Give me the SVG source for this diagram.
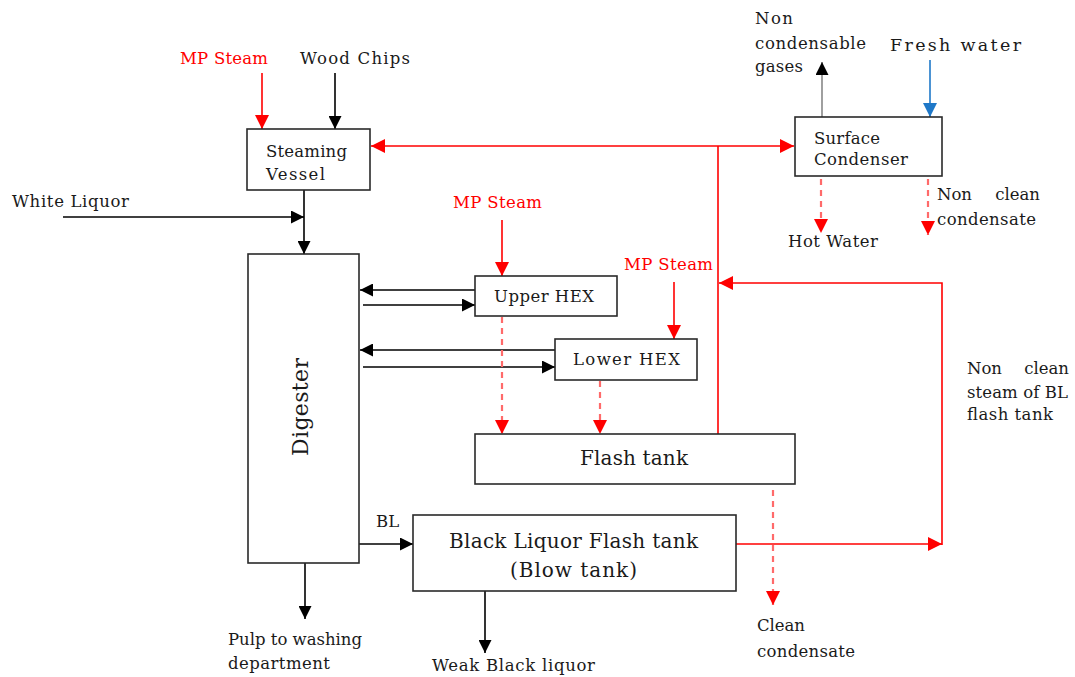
<svg xmlns="http://www.w3.org/2000/svg" width="1075" height="677" viewBox="0 0 1075 677">
<style>
text{font-family:"DejaVu Serif","Liberation Serif",serif;font-size:16.5px;fill:#1a1a1a}
.r{fill:#ff0000}
.box{fill:#fff;stroke:#2a2a2a;stroke-width:1.6}
.k{stroke:#000;stroke-width:1.6;fill:none}
.red{stroke:#ff0000;stroke-width:1.6;fill:none}
.dash{stroke:#ff6a6a;stroke-width:2.2;stroke-dasharray:6,5;fill:none}
.big{font-size:20px}
</style>
<defs>
<marker id="ak" viewBox="0 0 10 10" refX="10" refY="5" markerWidth="13" markerHeight="13" markerUnits="userSpaceOnUse" orient="auto-start-reverse"><path d="M0,0 L10,5 L0,10 z" fill="#000"/></marker>
<marker id="ar" viewBox="0 0 10 10" refX="10" refY="5" markerWidth="14" markerHeight="14" markerUnits="userSpaceOnUse" orient="auto-start-reverse"><path d="M0,0 L10,5 L0,10 z" fill="#ff0000"/></marker>
<marker id="ab" viewBox="0 0 10 10" refX="10" refY="5" markerWidth="14" markerHeight="14" markerUnits="userSpaceOnUse" orient="auto-start-reverse"><path d="M0,0 L10,5 L0,10 z" fill="#1f78c8"/></marker>
</defs>
<g id="connectors">
<line class="red" x1="262" y1="73" x2="262" y2="129" marker-end="url(#ar)"/>
<line class="k" x1="335" y1="73" x2="335" y2="129" marker-end="url(#ak)"/>
<line class="red" x1="371" y1="146" x2="794" y2="146" marker-start="url(#ar)" marker-end="url(#ar)"/>
<line class="red" x1="718" y1="146" x2="718" y2="434"/>
<line x1="822" y1="117" x2="822" y2="62" stroke="#888" stroke-width="1.6" marker-end="url(#ak)"/>
<line x1="930" y1="60" x2="930" y2="117" stroke="#1f78c8" stroke-width="1.6" marker-end="url(#ab)"/>
<line class="dash" x1="821" y1="179" x2="821" y2="233" marker-end="url(#ar)"/>
<line class="dash" x1="928" y1="179" x2="928" y2="235" marker-end="url(#ar)"/>
<line class="k" x1="63" y1="217" x2="304" y2="217" marker-end="url(#ak)"/>
<line class="k" x1="304" y1="190" x2="304" y2="254" marker-end="url(#ak)"/>
<line class="red" x1="502" y1="220" x2="502" y2="276" marker-end="url(#ar)"/>
<line class="red" x1="674" y1="282" x2="674" y2="339" marker-end="url(#ar)"/>
<line class="k" x1="475" y1="290" x2="360" y2="290" marker-end="url(#ak)"/>
<line class="k" x1="363" y1="305" x2="475" y2="305" marker-end="url(#ak)"/>
<line class="k" x1="555" y1="350" x2="360" y2="350" marker-end="url(#ak)"/>
<line class="k" x1="363" y1="367" x2="555" y2="367" marker-end="url(#ak)"/>
<line class="dash" x1="502" y1="317" x2="502" y2="434" marker-end="url(#ar)"/>
<line class="dash" x1="600" y1="381" x2="600" y2="434" marker-end="url(#ar)"/>
<line class="dash" x1="773" y1="490" x2="773" y2="605" marker-end="url(#ar)"/>
<line class="k" x1="359" y1="544" x2="413" y2="544" marker-end="url(#ak)"/>
<line class="k" x1="305" y1="563" x2="305" y2="619" marker-end="url(#ak)"/>
<line class="k" x1="485" y1="591" x2="485" y2="653" marker-end="url(#ak)"/>
<line class="red" x1="736" y1="544" x2="942" y2="544" marker-end="url(#ar)"/>
<path class="red" d="M942,545 V283 H719" marker-end="url(#ar)"/>
</g>
<g id="steaming-vessel">
<rect class="box" x="247" y="129" width="123" height="61"/>
<text x="266" y="157" textLength="81">Steaming</text>
<text x="266" y="180" textLength="59">Vessel</text>
</g>
<g id="surface-condenser">
<rect class="box" x="795" y="117" width="147" height="59"/>
<text x="814" y="144" textLength="66">Surface</text>
<text x="814" y="165" textLength="94">Condenser</text>
</g>
<g id="digester">
<rect class="box" x="248" y="254" width="111" height="309"/>
<text transform="translate(308,407) rotate(-90)" text-anchor="middle" style="font-size:22px" textLength="98">Digester</text>
</g>
<g id="upper-hex">
<rect class="box" x="475" y="276" width="142" height="40"/>
<text x="494" y="302" textLength="100">Upper HEX</text>
</g>
<g id="lower-hex">
<rect class="box" x="555" y="339" width="142" height="41"/>
<text x="573" y="365" textLength="107">Lower HEX</text>
</g>
<g id="flash-tank">
<rect class="box" x="475" y="434" width="320" height="50"/>
<text class="big" x="580" y="465" textLength="108">Flash tank</text>
</g>
<g id="bl-flash-tank">
<rect class="box" x="413" y="515" width="323" height="76"/>
<text class="big" x="449" y="548" textLength="249">Black Liquor Flash tank</text>
<text class="big" x="510" y="577" textLength="127">(Blow tank)</text>
</g>
<g id="labels">
<text class="r" x="180" y="64" textLength="88">MP Steam</text>
<text x="300" y="64" textLength="110">Wood Chips</text>
<text x="12" y="207" textLength="117">White Liquor</text>
<text class="r" x="453" y="208" textLength="89">MP Steam</text>
<text class="r" x="624" y="270" textLength="89">MP Steam</text>
<text x="376" y="527">BL</text>
<text x="228" y="645" textLength="134">Pulp to washing</text>
<text x="228" y="669" textLength="102">department</text>
<text x="432" y="671" textLength="163">Weak Black liquor</text>
<text x="757" y="631" textLength="48">Clean</text>
<text x="757" y="657" textLength="98">condensate</text>
<text x="967" y="374" xml:space="preserve">Non</text>
<text x="1069" y="374" text-anchor="end">clean</text>
<text x="967" y="398" textLength="101">steam of BL</text>
<text x="967" y="420" textLength="86">flash tank</text>
<text x="937" y="200">Non</text>
<text x="1040" y="200" text-anchor="end">clean</text>
<text x="937" y="225" textLength="99">condensate</text>
<text x="788" y="247" textLength="90">Hot Water</text>
<text x="755" y="24" textLength="38">Non</text>
<text x="755" y="49" textLength="111">condensable</text>
<text x="755" y="72" textLength="48">gases</text>
<text x="890" y="51" style="font-size:17.5px" textLength="131">Fresh water</text>
</g>
</svg>
